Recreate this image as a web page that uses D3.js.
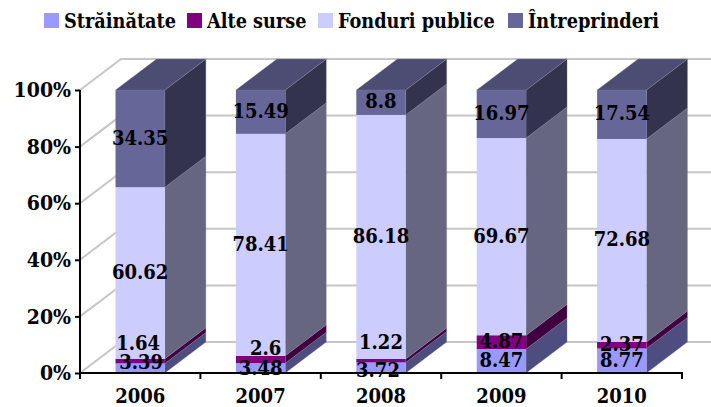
<!DOCTYPE html>
<html><head><meta charset="utf-8">
<script src="https://cdnjs.cloudflare.com/ajax/libs/d3/7.8.5/d3.min.js"></script>
<style>
html,body{margin:0;padding:0;background:#fff}
svg{display:block}
text{font-family:"DejaVu Serif Condensed","DejaVu Serif",serif;font-weight:700;fill:#000}
</style></head><body>
<svg id="c" width="711" height="407"></svg>
<script>
const years=["2006","2007","2008","2009","2010"];
const seriesNames=["Străinătate","Alte surse","Fonduri publice","Întreprinderi"];
const strainatate=[3.39,3.48,3.72,8.47,8.77];
const alteSurse=[1.64,2.6,1.22,4.87,2.37];
const fonduri=[60.62,78.41,86.18,69.67,72.68];
const intreprinderi=[34.35,15.49,8.8,16.97,17.54];
const seriesValues=[strainatate,alteSurse,fonduri,intreprinderi];
const yTicks=[0,.2,.4,.6,.8,1];
const colors=["#9999ff","#800080","#ccccff","#666699"];
const sideColors=["#4d4d80","#400040","#666680","#33334d"];
const topColor="#4d4d73";
const labelNudge={"0-0":[1,-5],"0-1":[0,1],"0-2":[-3,3],"1-0":[-2,-17],"1-1":[5,-10],"1-2":[0,-18]};

const dx=41,dy=-31;
const svg=d3.select("#c");
const x=d3.scaleBand().domain(years).range([80,682]).paddingInner(.59).paddingOuter(.295);
const y=d3.scaleLinear().domain([0,1]).range([373,90]);
const rows=years.map((yr,i)=>{const o={year:yr};seriesNames.forEach((s,k)=>o[s]=seriesValues[k][i]);return o;});
const stacked=d3.stack().keys(seriesNames).offset(d3.stackOffsetExpand)(rows);

// walls
const grid=svg.append("g").attr("fill","none").attr("stroke","#c6c6c6").attr("stroke-width",2);
yTicks.forEach(t=>{
  grid.append("path").attr("d",`M80,${y(t)}L${80+dx},${y(t)+dy}L711,${y(t)+dy}`);
});

// bars: draw each column bottom-up
const bars=svg.append("g");
years.forEach((yr,i)=>{
  const g=bars.append("g");
  const x0=x(yr),x1=x0+x.bandwidth();
  stacked.forEach((s,k)=>{
    const yb=y(s[i][0]),yt=y(s[i][1]);
    g.append("path").attr("fill",sideColors[k]).attr("stroke","#8c8c9c").attr("stroke-width",.3)
      .attr("d",`M${x1},${yb}L${x1+dx},${yb+dy}L${x1+dx},${yt+dy}L${x1},${yt}Z`);
    g.append("rect").attr("x",x0).attr("y",yt).attr("width",x1-x0).attr("height",yb-yt).attr("fill",colors[k]);
  });
  const yt=y(1);
  g.append("path").attr("fill",topColor).attr("stroke","#8c8c9c").attr("stroke-width",.3)
    .attr("d",`M${x0},${yt}L${x0+dx},${yt+dy}L${x1+dx},${yt+dy}L${x1},${yt}Z`);
});

// axes
const fontStack='"DejaVu Serif Condensed","DejaVu Serif",serif';
const yAxis=d3.axisLeft(y).tickValues(yTicks).tickFormat(d3.format(".0%")).tickSize(5).tickPadding(4);
const ga=svg.append("g").attr("transform","translate(80,0)").call(yAxis);
ga.selectAll("path,line").attr("stroke","#000").attr("stroke-width",2);
ga.select(".domain").attr("d","M0,90V373");
ga.selectAll("text").attr("font-size",21).style("font-family",fontStack).style("font-weight",700);

const xAxis=d3.axisBottom(x).tickSize(0).tickPadding(16);
const gb=svg.append("g").attr("transform","translate(0,373)").call(xAxis);
gb.select(".domain").attr("stroke","#000").attr("stroke-width",2).attr("d","M79,0H683");
gb.selectAll("text").attr("font-size",20).style("font-family",fontStack).style("font-weight",700);
svg.append("g").selectAll("line").data(d3.range(years.length+1)).join("line")
  .attr("x1",i=>80+i*x.step()).attr("x2",i=>80+i*x.step()).attr("y1",373).attr("y2",379)
  .attr("stroke","#000").attr("stroke-width",2);

// data labels
const lg=svg.append("g").attr("text-anchor","middle").attr("font-size",20);
stacked.forEach((s,k)=>{
  years.forEach((yr,i)=>{
    const n=labelNudge[`${k}-${i}`]||[0,0];
    lg.append("text").attr("x",x(yr)+x.bandwidth()/2+n[0])
      .attr("y",(y(s[i][0])+y(s[i][1]))/2+n[1]-1).attr("dy","0.35em").text(seriesValues[k][i]);
  });
});

// legend
const legendX=[44,187,318,508];
const leg=svg.append("g");
seriesNames.forEach((s,k)=>{
  leg.append("rect").attr("x",legendX[k]).attr("y",13).attr("width",15).attr("height",15).attr("fill",colors[k]);
  leg.append("text").attr("x",legendX[k]+20).attr("y",28).attr("font-size",19.7).text(s);
});
</script></body></html>
